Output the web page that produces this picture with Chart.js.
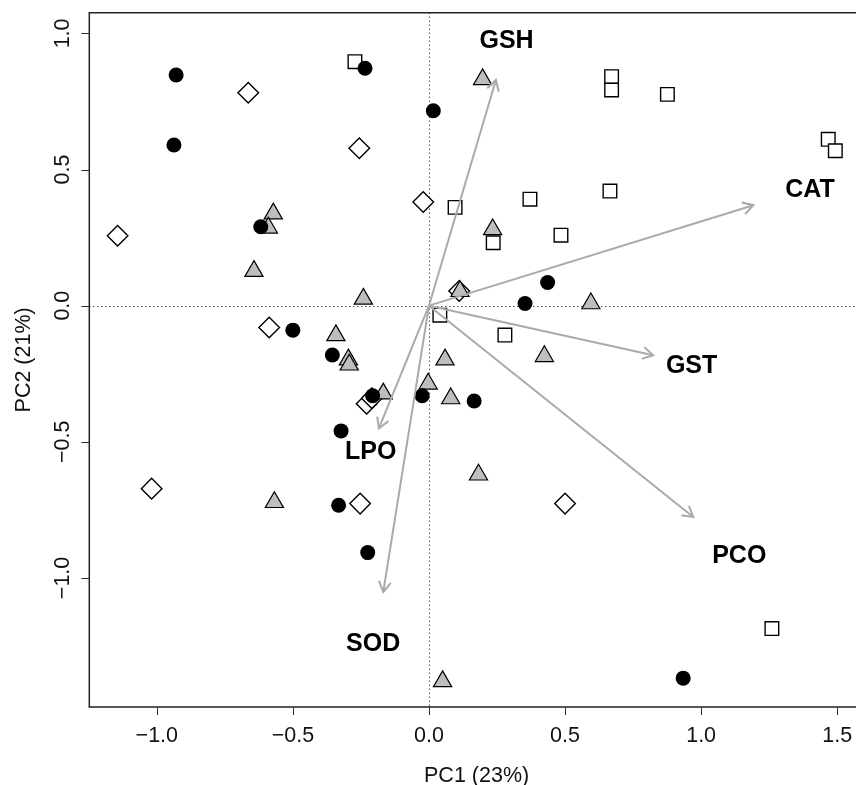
<!DOCTYPE html>
<html>
<head>
<meta charset="utf-8">
<script src="https://cdn.jsdelivr.net/npm/chart.js@4.4.1/dist/chart.umd.min.js"></script>
<style>
  body { margin: 0; background: #fff; }
  canvas { display: block; }
</style>
</head>
<body>
<canvas id="pcaChart" width="856" height="785"></canvas>
<script>
// scores, one pair of arrays per group
const circleX = [-0.929, -0.937, -0.235, 0.016, -0.618, -0.500, -0.355, -0.207, -0.025, 0.166, -0.323, 0.353, 0.436, -0.332, -0.225, 0.934];
const circleY = [0.847, 0.590, 0.872, 0.716, 0.290, -0.090, -0.181, -0.331, -0.331, -0.350, -0.460, 0.008, 0.085, -0.733, -0.907, -1.368];

const squareX = [-0.272, 0.671, 0.671, 0.876, 1.467, 1.493, 0.665, 0.371, 0.096, 0.485, 0.236, 0.040, 0.279, 1.260];
const squareY = [0.896, 0.841, 0.792, 0.776, 0.611, 0.569, 0.421, 0.391, 0.361, 0.259, 0.231, -0.035, -0.108, -1.186];

const diamondX = [-1.144, -0.664, -0.256, -0.021, 0.111, -0.587, -0.229, -0.210, -1.019, -0.253, 0.500];
const diamondY = [0.257, 0.782, 0.578, 0.381, 0.054, -0.080, -0.360, -0.340, -0.672, -0.727, -0.727];

const triangleX = [0.197, -0.572, -0.590, -0.643, -0.241, 0.234, 0.114, 0.595, -0.342, -0.296, -0.293, -0.168, 0.059, -0.003, 0.080, 0.424, 0.182, -0.568, 0.050];
const triangleY = [0.831, 0.338, 0.286, 0.127, 0.025, 0.280, 0.053, 0.008, -0.109, -0.198, -0.217, -0.323, -0.198, -0.287, -0.341, -0.186, -0.621, -0.722, -1.380];

// loadings (arrows) and where their names sit
const varNames = ['GSH', 'CAT', 'GST', 'PCO', 'LPO', 'SOD'];
const arrowX = [0.246, 1.192, 0.824, 0.971, -0.184, -0.168];
const arrowY = [0.829, 0.369, -0.182, -0.776, -0.451, -1.052];
const labelX = [0.285, 1.400, 0.965, 1.140, -0.214, -0.205];
const labelY = [0.976, 0.427, -0.219, -0.917, -0.534, -1.241];

const xTicks = [-1.0, -0.5, 0.0, 0.5, 1.0, 1.5];
const yTicks = [-1.0, -0.5, 0.0, 0.5, 1.0];
const xTitle = 'PC1 (23%)';
const yTitle = 'PC2 (21%)';

const FONT = '"Liberation Sans", Arial, Helvetica, sans-serif';
const ARROW_COLOR = 'rgb(170,170,170)';

function pts(xs, ys) {
    return xs.map((x, i) => ({ x: x, y: ys[i] }));
}
function fmt(v) {
    return (v < 0 ? '\u2212' : '') + Math.abs(v).toFixed(1);
}

const datasets = [];

// arrows first in list -> drawn on top
varNames.forEach((name, i) => {
    datasets.push({
        type: 'line',
        label: name,
        data: [{ x: 0, y: 0 }, { x: arrowX[i], y: arrowY[i] }],
        borderColor: ARROW_COLOR,
        borderWidth: 2,
        pointRadius: 0,
        fill: false,
        order: 0
    });
});

datasets.push({
    label: 'circles', data: pts(circleX, circleY),
    pointStyle: 'circle', pointRadius: 7.5,
    backgroundColor: '#000', borderColor: '#000', borderWidth: 0, order: 1
});
datasets.push({
    label: 'triangles', data: pts(triangleX, triangleY),
    pointStyle: 'triangle', pointRadius: 10.5,
    backgroundColor: '#bebebe', borderColor: '#000', borderWidth: 1.2, order: 2
});
datasets.push({
    label: 'diamonds', data: pts(diamondX, diamondY),
    pointStyle: 'rectRot', pointRadius: 10.3,
    backgroundColor: '#fff', borderColor: '#000', borderWidth: 1.4, order: 3
});
datasets.push({
    label: 'squares', data: pts(squareX, squareY),
    pointStyle: 'rect', pointRadius: 9.6,
    backgroundColor: '#fff', borderColor: '#000', borderWidth: 1.4, order: 4
});

// box, zero lines, arrow heads, axis text
const biplotDecor = {
    id: 'biplotDecor',
    beforeDatasetsDraw(chart) {
        const ctx = chart.ctx, a = chart.chartArea;
        const xs = chart.scales.x, ys = chart.scales.y;
        ctx.save();
        ctx.strokeStyle = '#000';
        ctx.lineWidth = 1;
        ctx.setLineDash([1, 3]);
        const x0 = Math.round(xs.getPixelForValue(0)) + 0.5;
        const y0 = Math.round(ys.getPixelForValue(0)) + 0.5;
        ctx.beginPath();
        ctx.moveTo(x0, a.top); ctx.lineTo(x0, a.bottom);
        ctx.moveTo(a.left, y0); ctx.lineTo(a.right, y0);
        ctx.stroke();
        ctx.restore();
    },
    afterDatasetsDraw(chart) {
        const ctx = chart.ctx, a = chart.chartArea;
        const xs = chart.scales.x, ys = chart.scales.y;
        ctx.save();
        // arrow heads
        ctx.strokeStyle = ARROW_COLOR;
        ctx.lineWidth = 2;
        const ox = xs.getPixelForValue(0), oy = ys.getPixelForValue(0);
        varNames.forEach((n, i) => {
            const tx = xs.getPixelForValue(arrowX[i]), ty = ys.getPixelForValue(arrowY[i]);
            const ang = Math.atan2(ty - oy, tx - ox);
            const len = 12, spread = Math.PI / 6;
            ctx.beginPath();
            ctx.moveTo(tx - len * Math.cos(ang - spread), ty - len * Math.sin(ang - spread));
            ctx.lineTo(tx, ty);
            ctx.lineTo(tx - len * Math.cos(ang + spread), ty - len * Math.sin(ang + spread));
            ctx.stroke();
        });
        // variable names
        ctx.fillStyle = '#000';
        ctx.font = 'bold 25px ' + FONT;
        ctx.textAlign = 'center';
        ctx.textBaseline = 'middle';
        varNames.forEach((n, i) => {
            ctx.fillText(n, xs.getPixelForValue(labelX[i]), ys.getPixelForValue(labelY[i]) + 1);
        });

        // box (left, top, bottom; right side falls outside the picture)
        ctx.strokeStyle = '#222';
        ctx.lineWidth = 1.5;
        ctx.beginPath();
        ctx.moveTo(a.right + 2, a.top);
        ctx.lineTo(a.left, a.top);
        ctx.lineTo(a.left, a.bottom);
        ctx.lineTo(a.right + 2, a.bottom);
        ctx.stroke();

        // tick marks
        ctx.lineWidth = 1;
        ctx.strokeStyle = '#333';
        ctx.beginPath();
        xTicks.forEach(v => {
            const px = Math.round(xs.getPixelForValue(v)) + 0.5;
            ctx.moveTo(px, a.bottom); ctx.lineTo(px, a.bottom + 8);
        });
        yTicks.forEach(v => {
            const py = Math.round(ys.getPixelForValue(v)) + 0.5;
            ctx.moveTo(a.left, py); ctx.lineTo(a.left - 8, py);
        });
        ctx.stroke();

        // tick labels
        ctx.fillStyle = '#111';
        ctx.font = '21.5px ' + FONT;
        ctx.textAlign = 'center';
        ctx.textBaseline = 'middle';
        xTicks.forEach(v => {
            ctx.fillText(fmt(v), xs.getPixelForValue(v), a.bottom + 29);
        });
        yTicks.forEach(v => {
            ctx.save();
            ctx.translate(a.left - 26, ys.getPixelForValue(v));
            ctx.rotate(-Math.PI / 2);
            ctx.fillText(fmt(v), 0, 0);
            ctx.restore();
        });

        // axis titles
        ctx.fillText(xTitle, xs.getPixelForValue(0.175), a.bottom + 69);
        ctx.save();
        ctx.translate(a.left - 65, (a.top + a.bottom) / 2);
        ctx.rotate(-Math.PI / 2);
        ctx.fillText(yTitle, 0, 0);
        ctx.restore();
        ctx.restore();
    }
};

const ctx = document.getElementById('pcaChart').getContext('2d');
const pcaChart = new Chart(ctx, {
    type: 'scatter',
    data: { datasets: datasets },
    options: {
        responsive: false,
        animation: false,
        events: [],
        layout: { autoPadding: false, padding: { top: 12.7, right: 0, left: 0, bottom: 0 } },
        plugins: {
            legend: { display: false },
            tooltip: { enabled: false }
        },
        scales: {
            x: {
                type: 'linear',
                min: -1.248,
                max: 1.569,
                grid: { display: false },
                border: { display: false },
                ticks: { display: false },
                afterFit: function (scale) { scale.height = 78; }
            },
            y: {
                type: 'linear',
                min: -1.474,
                max: 1.076,
                grid: { display: false },
                border: { display: false },
                ticks: { display: false },
                afterFit: function (scale) { scale.width = 89.3; }
            }
        }
    },
    plugins: [biplotDecor]
});
</script>
</body>
</html>
